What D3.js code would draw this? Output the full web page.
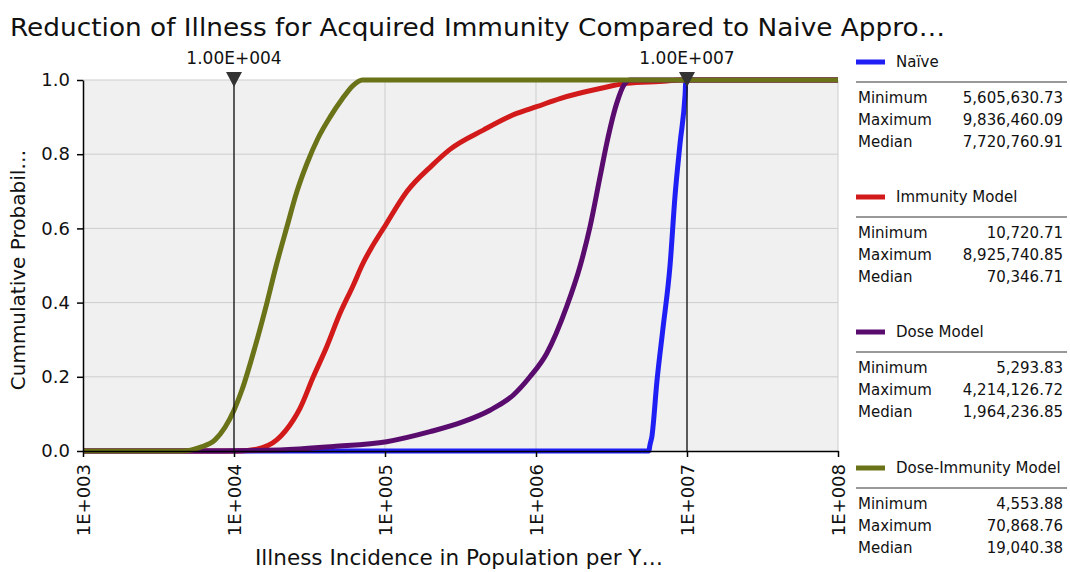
<!DOCTYPE html>
<html><head><meta charset="utf-8">
<script src="https://cdn.jsdelivr.net/npm/d3@7"></script>
<style>
body{margin:0;background:#fff;}
svg{display:block;font-family:"DejaVu Sans",sans-serif;}
</style></head>
<body><svg id="chart" width="1070" height="572"></svg>
<script>
// ---------- data ----------
const titleText = "Reduction of Illness for Acquired Immunity Compared to Naive Appro\u2026";
const xAxisTitle = "Illness Incidence in Population per Y\u2026";
const yAxisTitle = "Cummulative Probabil\u2026";
const xDomain = [1e3, 1e8];
const xTicks = [1e3, 1e4, 1e5, 1e6, 1e7, 1e8];
const xTickLabels = ["1E+003", "1E+004", "1E+005", "1E+006", "1E+007", "1E+008"];
const yTicks = [0, 0.2, 0.4, 0.6, 0.8, 1.0];
const markerValues = [1e4, 1e7];
const markerLabels = ["1.00E+004", "1.00E+007"];

const seriesNames = ["Na\u00efve", "Immunity Model", "Dose Model", "Dose-Immunity Model"];
const seriesColors = ["#1f1ff5", "#d21a1a", "#5a0c6e", "#6b7318"];

const naiveX = [5605631, 5650000, 5860000, 6330000, 6930000, 7720761, 8340000, 9000000, 9710000, 9836460];
const naiveP = [0, 0.01, 0.04, 0.19, 0.33, 0.5, 0.69, 0.83, 0.96, 1.0];

const immunityX = [10721, 14130, 19190, 24730, 27350, 33500, 41120, 50350, 61660, 70347, 102600, 140000, 205000, 269400, 447800, 745000, 1009000, 1441000, 2654000, 3988000, 7346000, 8925741];
const immunityP = [0, 0.005, 0.03, 0.084, 0.115, 0.2, 0.281, 0.371, 0.447, 0.5, 0.614, 0.7, 0.77, 0.813, 0.865, 0.91, 0.928, 0.95, 0.977, 0.991, 0.997, 1.0];

const doseX = [5294, 20180, 45500, 102600, 198700, 330500, 495700, 708300, 912000, 1177000, 1596000, 1964237, 2281000, 2655000, 2940000, 3422000, 3882000, 4214127];
const doseP = [0, 0.003, 0.012, 0.025, 0.052, 0.079, 0.11, 0.151, 0.2, 0.263, 0.389, 0.5, 0.605, 0.739, 0.829, 0.937, 0.991, 1.0];

const doseImmX = [4554, 5957, 7484, 10000, 11300, 13770, 16540, 19040, 22440, 26130, 30430, 35990, 43230, 51910, 61380, 70869];
const doseImmP = [0, 0.01, 0.03, 0.11, 0.165, 0.28, 0.40, 0.5, 0.605, 0.70, 0.775, 0.843, 0.90, 0.948, 0.985, 1.0];

const statLabels = ["Minimum", "Maximum", "Median"];
const naiveStats = ["5,605,630.73", "9,836,460.09", "7,720,760.91"];
const immunityStats = ["10,720.71", "8,925,740.85", "70,346.71"];
const doseStats = ["5,293.83", "4,214,126.72", "1,964,236.85"];
const doseImmStats = ["4,553.88", "70,868.76", "19,040.38"];

// ---------- chart ----------
const seriesX = [naiveX, immunityX, doseX, doseImmX];
const seriesP = [naiveP, immunityP, doseP, doseImmP];
const seriesStats = [naiveStats, immunityStats, doseStats, doseImmStats];

const svg = d3.select("#chart");
const L = 83, R = 838, T = 80, B = 451;
const x = d3.scaleLog().domain(xDomain).range([L, R]);
const y = d3.scaleLinear().domain([0, 1]).range([B, T]);

// title
svg.append("text").attr("x", 10).attr("y", 36)
  .attr("font-size", 25).attr("fill", "#111").text(titleText)
  .attr("textLength", 935).attr("lengthAdjust", "spacingAndGlyphs");

// plot background
svg.append("rect").attr("x", L).attr("y", T).attr("width", R - L).attr("height", B - T).attr("fill", "#f0f0f0");

// grid
svg.append("g").selectAll("line").data(yTicks.filter(d => d > 0)).join("line")
  .attr("x1", L).attr("x2", R).attr("y1", d => y(d)).attr("y2", d => y(d))
  .attr("stroke", "#cdcdcd").attr("stroke-width", 1);
svg.append("g").selectAll("line").data(xTicks.slice(1)).join("line")
  .attr("x1", d => x(d)).attr("x2", d => x(d)).attr("y1", T).attr("y2", B)
  .attr("stroke", "#cdcdcd").attr("stroke-width", 1);

// series
const line = d3.line().x(d => x(d[0])).y(d => y(d[1])).curve(d3.curveMonotoneX);
seriesX.forEach((xs, i) => {
  const pts = [[xDomain[0], 0]].concat(xs.map((v, j) => [v, seriesP[i][j]]), [[xDomain[1], 1]]);
  svg.append("path").datum(pts).attr("d", line).attr("fill", "none")
    .attr("stroke", seriesColors[i]).attr("stroke-width", 5).attr("stroke-linejoin", "round");
});

// axes
const yAxis = svg.append("g").attr("transform", `translate(${L},0)`)
  .call(d3.axisLeft(y).tickValues(yTicks).tickFormat(d3.format(".1f")).tickSize(6).tickSizeOuter(0));
yAxis.select(".domain").attr("stroke", "#000").attr("stroke-width", 1.5);
yAxis.selectAll(".tick line").attr("stroke", "#000").attr("stroke-width", 1.5);
yAxis.selectAll(".tick text").attr("font-size", 18).attr("fill", "#111").attr("font-family", "DejaVu Sans").attr("x", -13);

const xAxis = svg.append("g").attr("transform", `translate(0,${B})`)
  .call(d3.axisBottom(x).tickValues(xTicks).tickFormat((d, i) => xTickLabels[i]).tickSize(6).tickSizeOuter(0));
xAxis.select(".domain").attr("stroke", "#000").attr("stroke-width", 1.5);
xAxis.selectAll(".tick line").attr("stroke", "#000").attr("stroke-width", 1.5);
xAxis.selectAll(".tick text").attr("font-size", 18).attr("fill", "#111").attr("font-family", "DejaVu Sans")
  .attr("transform", "rotate(-90)").attr("x", -13).attr("y", 0).attr("dy", "0.35em").attr("text-anchor", "end");

// axis titles
svg.append("text").attr("x", 459).attr("y", 565).attr("text-anchor", "middle")
  .attr("font-size", 21.5).attr("fill", "#111").text(xAxisTitle);
svg.append("text").attr("transform", "translate(25,270) rotate(-90)").attr("text-anchor", "middle")
  .attr("font-size", 20).attr("fill", "#111").text(yAxisTitle);

// markers
const mk = svg.append("g").selectAll("g").data(markerValues).join("g")
  .attr("transform", d => `translate(${x(d)},0)`);
mk.append("line").attr("x1", 0).attr("x2", 0).attr("y1", T).attr("y2", B).attr("stroke", "#111").attr("stroke-width", 1.3);
mk.append("path").attr("d", "M-8,72 L8,72 L0,87 Z").attr("fill", "#333");
mk.append("text").attr("y", 64).attr("text-anchor", "middle").attr("font-size", 17).attr("fill", "#111")
  .text((d, i) => markerLabels[i]);

// legend
const legTop = [62, 197, 332, 468];
const lg = svg.append("g");
seriesNames.forEach((name, i) => {
  const g = lg.append("g").attr("transform", `translate(0,${legTop[i]})`);
  g.append("line").attr("x1", 856).attr("x2", 885).attr("y1", 0).attr("y2", 0)
    .attr("stroke", seriesColors[i]).attr("stroke-width", 5);
  g.append("text").attr("x", 896).attr("y", 0).attr("dy", "0.35em").attr("font-size", 15).attr("fill", "#111").text(name);
  g.append("line").attr("x1", 856).attr("x2", 1067).attr("y1", 20).attr("y2", 20).attr("stroke", "#777").attr("stroke-width", 1.5);
  statLabels.forEach((s, j) => {
    g.append("text").attr("x", 858).attr("y", 36 + j * 22).attr("dy", "0.35em").attr("font-size", 15).attr("fill", "#111").text(s);
    g.append("text").attr("x", 1063).attr("y", 36 + j * 22).attr("dy", "0.35em").attr("text-anchor", "end")
      .attr("font-size", 15).attr("fill", "#111").text(seriesStats[i][j]);
  });
});
</script></body></html>
